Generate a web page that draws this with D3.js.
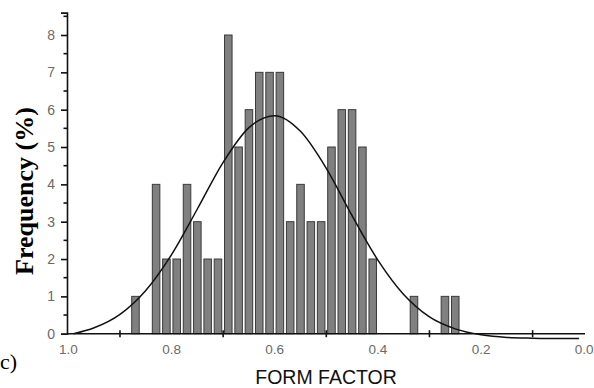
<!DOCTYPE html>
<html>
<head>
<meta charset="utf-8">
<script src="https://cdn.jsdelivr.net/npm/d3@7"></script>
<style>
  body { margin: 0; background: #fff; }
  svg { display: block; }
</style>
</head>
<body>
<div id="vis"></div>
<script>

// histogram bins (form factor bin centre, frequency %)
const binCenters = [0.87, 0.85, 0.83, 0.81, 0.79, 0.77, 0.75, 0.73, 0.71, 0.69, 0.67, 0.65, 0.63,
    0.61, 0.59, 0.57, 0.55, 0.53, 0.51, 0.49, 0.47, 0.45, 0.43, 0.41, 0.33, 0.27, 0.25]
const frequencies = [1, 0, 4, 2, 2, 4, 3, 2, 2, 8, 5, 6, 7,
    7, 7, 3, 4, 3, 3, 5, 6, 6, 5, 2, 1, 1, 1]

// fitted curve
const curveX = [0.99, 0.95, 0.9, 0.85, 0.8, 0.75, 0.7, 0.65, 0.6, 0.55, 0.5, 0.45, 0.4,
    0.35, 0.3, 0.25, 0.2, 0.15, 0.1, 0.05, 0.01]
const curveY = [0.0, 0.16, 0.52, 1.16, 2.12, 3.34, 4.59, 5.52, 5.84, 5.42, 4.43, 3.16, 1.97,
    1.05, 0.45, 0.13, -0.03, -0.1, -0.12, -0.13, -0.13]

const xLabelTicks = [1.0, 0.8, 0.6, 0.4, 0.2, 0.0]
const xMarkTicks = [0.9, 0.7, 0.5, 0.3, 0.1]
const yTicks = [0, 1, 2, 3, 4, 5, 6, 7, 8]

const W = 594, H = 388
const binWidth = 0.0146

const svg = d3.select('#vis').append('svg')
    .attr('width', W)
    .attr('height', H)

const x = d3.scaleLinear().domain([1.0, 0.0]).range([68.4, 584.2])
const y = d3.scaleLinear().domain([0, 8]).range([333.7, 35])
const axisX = 67

const bins = binCenters.map((c, i) => ({c: c, f: frequencies[i]})).filter(d => d.f > 0)

svg.selectAll('rect.bar')
    .data(bins)
    .enter()
    .append('rect')
    .attr('class', 'bar')
    .attr('x', d => x(d.c + binWidth / 2))
    .attr('y', d => y(d.f))
    .attr('width', d => x(d.c - binWidth / 2) - x(d.c + binWidth / 2))
    .attr('height', d => y(0) - y(d.f))
    .attr('fill', '#808080')
    .attr('stroke', '#3a3a3a')
    .attr('stroke-width', 1)

// x axis line and cross ticks
svg.append('line')
    .attr('x1', axisX).attr('x2', 585)
    .attr('y1', y(0)).attr('y2', y(0))
    .attr('stroke', '#111').attr('stroke-width', 1.6)

svg.selectAll('.xtick')
    .data(xMarkTicks)
    .enter()
    .append('line')
    .attr('class', 'xtick')
    .attr('x1', d => x(d)).attr('x2', d => x(d))
    .attr('y1', y(0) - 3.5).attr('y2', y(0) + 3.5)
    .attr('stroke', '#111').attr('stroke-width', 1.6)

svg.selectAll('.xlabel')
    .data(xLabelTicks)
    .enter()
    .append('text')
    .attr('class', 'xlabel')
    .attr('x', d => x(d))
    .attr('y', 354)
    .attr('text-anchor', 'middle')
    .style('font-family', 'Liberation Sans, Arial, sans-serif')
    .style('font-size', '13.5px')
    .style('fill', '#6a6a6a')
    .text(d => d3.format('.1f')(d))

// y axis
const yAxis = svg.append('g')
    .attr('transform', `translate(${axisX},0)`)
    .call(d3.axisLeft(y.copy().domain([0, 8.6]).range([333.7, y(8.6)]))
        .tickValues(yTicks).tickSize(6).tickPadding(6).tickFormat(d3.format('d')))

yAxis.select('.domain').attr('stroke', '#111').attr('stroke-width', 1.6)
yAxis.selectAll('.tick line').attr('stroke', '#111').attr('stroke-width', 1.6)
yAxis.selectAll('.tick text')
    .style('font-family', 'Liberation Sans, Arial, sans-serif')
    .style('font-size', '14px')
    .style('fill', '#6a6a6a')

const minorY = d3.range(0.5, 8.6, 1)
svg.selectAll('.ymin')
    .data(minorY)
    .enter()
    .append('line')
    .attr('class', 'ymin')
    .attr('x1', axisX - 3.5).attr('x2', axisX)
    .attr('y1', d => y(d)).attr('y2', d => y(d))
    .attr('stroke', '#111').attr('stroke-width', 1.6)

// fitted curve
const pts = curveX.map((v, i) => [x(v), y(curveY[i])])
svg.append('path')
    .attr('d', d3.line().curve(d3.curveMonotoneX)(pts))
    .attr('fill', 'none')
    .attr('stroke', '#111')
    .attr('stroke-width', 1.5)

// labels
svg.append('text')
    .attr('transform', 'translate(33,191) rotate(-90)')
    .attr('text-anchor', 'middle')
    .style('font-family', 'Liberation Serif, Times New Roman, serif')
    .style('font-weight', 'bold')
    .style('font-size', '26px')
    .text('Frequency (%)')

svg.append('text')
    .attr('x', 326)
    .attr('y', 384)
    .attr('text-anchor', 'middle')
    .style('font-family', 'Liberation Sans, Arial, sans-serif')
    .style('font-size', '19.5px')
    .style('fill', '#111')
    .text('FORM FACTOR')

svg.append('text')
    .attr('x', 0)
    .attr('y', 369)
    .style('font-family', 'Liberation Serif, Times New Roman, serif')
    .style('font-size', '22px')
    .text('c)')

</script>
</body>
</html>
